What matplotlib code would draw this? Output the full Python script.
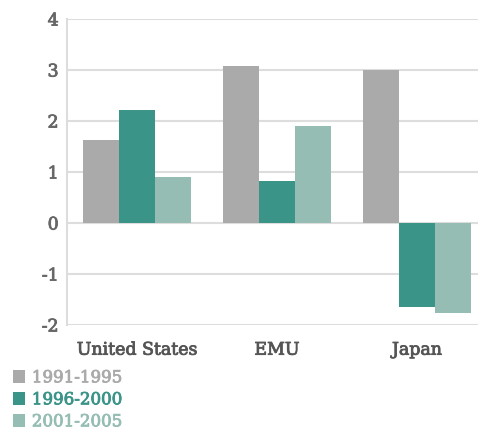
import matplotlib
matplotlib.use("Agg")
import matplotlib.pyplot as plt
import matplotlib.patheffects as pe
from matplotlib.patches import Patch
import numpy as np

regions = ["United States", "EMU", "Japan"]
periods = ["1991-1995", "1996-2000", "2001-2005"]
v_1991_1995 = [1.63, 3.08, 3.0]
v_1996_2000 = [2.22, 0.82, -1.64]
v_2001_2005 = [0.90, 1.90, -1.76]
yticks = [-2, -1, 0, 1, 2, 3, 4]

colors = ["#aaaaaa", "#3a9488", "#95bdb3"]
series = [v_1991_1995, v_1996_2000, v_2001_2005]

W, H = 478, 431
fig = plt.figure(figsize=(W / 100, H / 100), dpi=100)
ax = fig.add_axes([67 / W, (H - 326) / H, (W - 67) / W, 306 / H])

font = "DejaVu Serif"


def heavier(color):
    # slightly thicken the regular serif weight
    return [pe.withStroke(linewidth=0.6, foreground=color)]


x = np.arange(len(regions))
bw = 36 / 140
for i, (vals, c) in enumerate(zip(series, colors)):
    ax.bar(x + (i - 1) * bw, vals, width=bw, color=c, zorder=2, linewidth=0)

ax.set_ylim(-2, 4)
ax.set_xlim(-0.5, (W - 137) / 140)
ax.set_yticks(yticks)
ax.set_yticklabels([str(t) for t in yticks], family=font, fontsize=12.5,
                   color="#666666")
ax.set_xticks(x)
ax.set_xticklabels(regions, family=font, fontsize=12.5, color="#555555")
for t in ax.get_yticklabels():
    t.set_path_effects(heavier("#666666"))
for t in ax.get_xticklabels():
    t.set_path_effects(heavier("#555555"))
ax.tick_params(axis="both", length=0)
ax.tick_params(axis="y", pad=6)
ax.tick_params(axis="x", pad=12)
ax.grid(axis="y", color="#dddddd", linewidth=1.5, zorder=0)
for s in ["top", "right", "bottom"]:
    ax.spines[s].set_visible(False)
ax.spines["left"].set_color("#dddddd")
ax.spines["left"].set_linewidth(1.5)

handles = [Patch(facecolor=c, edgecolor="none") for c in colors]
leg = fig.legend(handles, periods, loc="lower left",
                 bbox_to_anchor=(6 / W, -7 / H), frameon=False,
                 prop={"family": font, "size": 12},
                 handlelength=0.75, handleheight=0.75, handletextpad=0.4,
                 labelspacing=0.3, borderaxespad=0)
for t, c in zip(leg.get_texts(), colors):
    t.set_color(c)
    t.set_path_effects(heavier(c))

fig.savefig("out.png", dpi=100)
